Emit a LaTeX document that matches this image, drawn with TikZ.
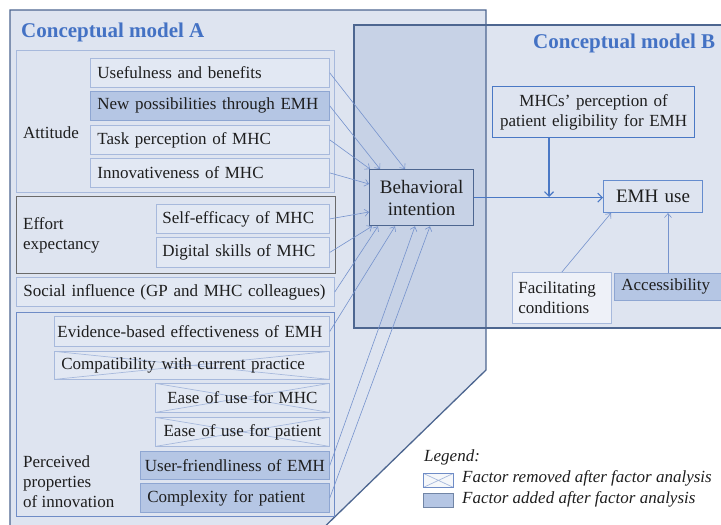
\documentclass[tikz,border=0pt]{standalone}
\usepackage{fontspec}
\setmainfont{Liberation Serif}
\usetikzlibrary{arrows.meta,calc}
\definecolor{bgA}{HTML}{DEE4F0}
\definecolor{ovl}{HTML}{C7D2E6}
\definecolor{outerc}{HTML}{4D6690}
\definecolor{fbd}{HTML}{A7B9DC}
\definecolor{ffill}{HTML}{E2E8F3}
\definecolor{afill}{HTML}{B5C6E4}
\definecolor{abd}{HTML}{8EA6D2}
\definecolor{titlec}{HTML}{4472C4}
\definecolor{arrc}{HTML}{7693CD}
\definecolor{mainarr}{HTML}{4A78C5}
\definecolor{txtc}{HTML}{1E1E1E}
\definecolor{effbd}{HTML}{6A6A6A}
\definecolor{percbd}{HTML}{6F8CC6}
\newcommand\myBody{\fontsize{17}{20}\selectfont}
\newcommand\myBig{\fontsize{19}{22}\selectfont}
\newcommand\myLeg{\fontsize{17}{20}\selectfont\itshape}
\newcommand\fbx[8]{%
 \pgfmathsetmacro\fbW{#5-#3}\pgfmathsetmacro\fbH{#6-#4}\pgfmathsetmacro\fbT{#5-#3-2*#7}%
 \node[#2,anchor=north west,minimum width=\fbW pt,minimum height=\fbH pt,text width=\fbT pt,inner xsep=#7pt,inner ysep=0pt] (#1) at (#3,#4) {#8};}
\begin{document}
\begin{tikzpicture}[x=1pt,y=-1pt,
  plain/.style={draw=fbd, fill=ffill, line width=0.8pt, text=txtc, font=\myBody, align=left},
  added/.style={plain, draw=abd, fill=afill},
  crossed/.style={plain, path picture={\draw[fbd, line width=0.7pt]
     (path picture bounding box.north west) -- (path picture bounding box.south east)
     (path picture bounding box.south west) -- (path picture bounding box.north east);}},
  bibox/.style={draw=outerc, fill=ovl, line width=1.3pt, text=txtc, font=\myBig, align=center},
  mhcbox/.style={draw=mainarr, fill=bgA, line width=1.2pt, text=txtc, font=\myBody, align=center},
  emhbox/.style={draw=mainarr!85!white, fill=bgA, line width=1.1pt, text=txtc, font=\myBig, align=center},
  grp/.style={draw=fbd, line width=0.8pt},
  lbl/.style={text=txtc, font=\myBody, inner sep=0pt},
  ttl/.style={text=titlec, font=\fontsize{21}{24}\selectfont\bfseries, inner sep=0pt},
  inarr/.style={draw=arrc, line width=0.6pt, -{Straight Barb[length=4pt,width=7pt]}},
  mainarrow/.style={draw=mainarr, line width=1.1pt, -{Straight Barb[length=4.5pt,width=9pt]}},
  leg/.style={text=txtc, font=\myLeg, inner sep=0pt}]
\useasboundingbox (0,0) rectangle (721,525);
\clip (0,0) rectangle (721,525);
% model backgrounds
\fill[bgA] (10,10) -- (486,10) -- (486,370) -- (311,540) -- (10,540) -- cycle;
\fill[bgA] (354,25) rectangle (730,328);
\fill[ovl] (354,25) rectangle (486,328);
\draw[outerc, line width=1.3pt] (10,540) -- (10,10) -- (486,10) -- (486,370) -- (311,540);
\draw[outerc, line width=1.3pt] (730,25) -- (354,25) -- (354,328) -- (730,328);
% titles
\node[ttl, anchor=west] (tA) at (21,32) {Conceptual model A};
\node[ttl, anchor=west] (tB) at (533,43) {Conceptual model B};
% groups
\draw[grp] (16,50) rectangle (334,192);
\draw[draw=effbd, line width=1pt] (16,196) rectangle (335,273);
\draw[draw=percbd, line width=0.9pt] (16,312) rectangle (334,516);
% factors
\fbx{usef}{plain}{90}{58}{329}{87}{7}{\mbox{Usefulness and benefits}}
\fbx{newp}{added}{90}{91}{329}{120}{7}{\mbox{New possibilities through EMH}}
\fbx{task}{plain}{90}{125}{329}{154}{7}{\mbox{Task perception of MHC}}
\fbx{innov}{plain}{90}{158}{329}{187}{7}{\mbox{Innovativeness of MHC}}
\fbx{selfe}{plain}{156}{204}{329}{233}{6}{\mbox{Self-efficacy of MHC}}
\fbx{digit}{plain}{156}{237}{329}{267}{6}{\mbox{Digital skills of MHC}}
\fbx{social}{plain}{16}{277}{334}{306}{7}{\mbox{Social influence (GP and MHC colleagues)}}
\fbx{evid}{plain}{54}{316}{329}{346}{3}{\mbox{Evidence-based effectiveness of EMH}}
\fbx{compat}{crossed}{54}{351}{329}{379}{7}{\mbox{Compatibility with current practice}}
\fbx{easemhc}{crossed,align=center}{155}{383}{329}{412}{3}{\mbox{Ease of use for MHC}}
\fbx{easepat}{crossed,align=center}{155}{417}{329}{446}{3}{\mbox{Ease of use for patient}}
\fbx{userf}{added,align=center}{140}{451}{329}{479}{2}{\mbox{User-friendliness of EMH}}
\fbx{compl}{added}{140}{483}{329}{512}{7}{\mbox{Complexity for patient}}
% group labels
\node[lbl, anchor=west] (attl) at (23,133) {Attitude};
\node[lbl, anchor=west, align=left] (effl) at (23,235) {Effort\\expectancy};
\node[lbl, anchor=west, align=left] (percl) at (23,482) {Perceived\\properties\\of innovation};
% right side
\fbx{bi}{bibox}{369}{169}{473}{225}{2}{Behavioral\\intention}
\fbx{mhcp}{mhcbox}{492}{86}{694}{137}{2}{MHCs’ perception of\\patient eligibility for EMH}
\fbx{emh}{emhbox}{603}{180}{702}{212}{2}{EMH use}
\fbx{facil}{plain,fill=ffill!60!white}{512}{272}{611}{323}{6}{Facilitating\\conditions}
\fbx{access}{added}{614}{273}{726}{300}{7}{\mbox{Accessibility}}
% arrows into behavioral intention
\draw[inarr] (usef.east) -- ($(bi.north west)+(36,0)$);
\draw[inarr] (newp.east) -- ($(bi.north west)+(11,0)$);
\draw[inarr] (task.east) -- ($(bi.north west)+(1,0)$);
\draw[inarr] (innov.east) -- ($(bi.north west)+(0,15)$);
\draw[inarr] (selfe.east) -- ($(bi.north west)+(0,43)$);
\draw[inarr] (digit.east) -- ($(bi.south west)+(3,0)$);
\draw[inarr] (social.east) -- ($(bi.south west)+(9,0)$);
\draw[inarr] (evid.east) -- ($(bi.south west)+(26,0)$);
\draw[inarr] (userf.east) -- ($(bi.south west)+(46,0)$);
\draw[inarr] (compl.east) -- ($(bi.south west)+(61,0)$);
% model B arrows
\coordinate (mj) at (549,197);
\draw[mainarrow] (bi.east) -- (bi.east -| emh.west);
\draw[mainarrow] (mhcp.south -| mj) -- (mj);
\draw[inarr] (facil.north) -- ($(emh.south west)+(8,0)$);
\draw[inarr] (access.north -| 668,0) -- (emh.south -| 668,0);
% legend
\node[leg, anchor=west] (legt) at (424,457) {Legend:};
\node[crossed, fill=white!70!bgA, draw=percbd, anchor=north west, minimum width=30pt, minimum height=14pt, inner sep=0pt] (legrem) at (423,473) {};
\node[added, draw=outerc!80!white, anchor=north west, minimum width=30pt, minimum height=14pt, inner sep=0pt] (legadd) at (423,493) {};
\node[leg, anchor=west] (legremt) at (462,478) {Factor removed after factor analysis};
\node[leg, anchor=west] (legaddt) at (462,499) {Factor added after factor analysis};
\end{tikzpicture}
\end{document}
